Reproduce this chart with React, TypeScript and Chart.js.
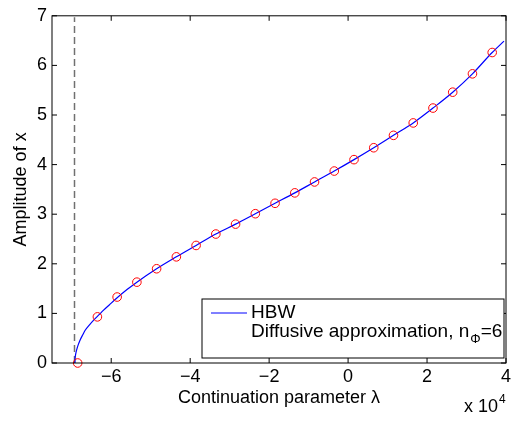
import React, { useEffect, useRef } from 'react';
import { Chart, registerables } from 'chart.js';

Chart.register(...registerables);

// continuation parameter in units of 1e4
const hbwLambda = [-6.92, -6.915, -6.9, -6.87, -6.83, -6.79, -6.72, -6.66, -6.55, -6.45, -6.3, -6.2, -6.05, -5.9, -5.6, -5.35, -4.85, -4.35, -3.85, -3.35, -2.85, -2.35, -1.85, -1.35, -0.85, -0.35, 0.15, 0.65, 1.15, 1.65, 2.15, 2.65, 3.15, 3.65, 3.95];
const hbwAmp = [0, 0.09, 0.18, 0.28, 0.38, 0.46, 0.57, 0.66, 0.77, 0.86, 0.98, 1.06, 1.17, 1.28, 1.48, 1.63, 1.9, 2.14, 2.37, 2.6, 2.8, 3.01, 3.22, 3.43, 3.65, 3.87, 4.1, 4.34, 4.59, 4.84, 5.14, 5.46, 5.83, 6.26, 6.49];

const diffLambda = [-6.85, -6.35, -5.85, -5.35, -4.85, -4.35, -3.85, -3.35, -2.85, -2.35, -1.85, -1.35, -0.85, -0.35, 0.15, 0.65, 1.15, 1.65, 2.15, 2.65, 3.15, 3.65];
const diffAmp = [0, 0.93, 1.33, 1.63, 1.9, 2.14, 2.37, 2.6, 2.8, 3.01, 3.22, 3.43, 3.65, 3.87, 4.1, 4.34, 4.59, 4.84, 5.14, 5.46, 5.83, 6.26];

const boundaryLambda = [-6.93, -6.93];
const boundaryAmp = [0, 6.97];

const xTicks = [-6, -4, -2, 0, 2, 4];
const yTicks = [0, 1, 2, 3, 4, 5, 6, 7];

const FONT = '"Liberation Sans", Arial, Helvetica, sans-serif';

const framePlugin = {
  id: 'matlabFrame',
  afterDatasetsDraw(chart: any) {
    const { ctx, chartArea: a, scales } = chart;
    const xs = scales.x;
    const ys = scales.y;
    ctx.save();
    ctx.strokeStyle = '#000';
    ctx.lineWidth = 1;
    ctx.strokeRect(a.left, a.top, a.right - a.left, a.bottom - a.top);

    // inward ticks on all four sides
    ctx.beginPath();
    xs.ticks.forEach((t: any) => {
      const px = xs.getPixelForValue(t.value);
      ctx.moveTo(px, a.bottom);
      ctx.lineTo(px, a.bottom - 5);
      ctx.moveTo(px, a.top);
      ctx.lineTo(px, a.top + 5);
    });
    ys.ticks.forEach((t: any) => {
      const py = ys.getPixelForValue(t.value);
      ctx.moveTo(a.left, py);
      ctx.lineTo(a.left + 5, py);
      ctx.moveTo(a.right, py);
      ctx.lineTo(a.right - 5, py);
    });
    ctx.stroke();

    // legend
    const w = 302;
    const h = 59;
    const lx = a.right - 2 - w;
    const ly = a.bottom - 5 - h;
    ctx.fillStyle = '#fff';
    ctx.fillRect(lx, ly, w, h);
    ctx.strokeRect(lx, ly, w, h);
    ctx.strokeStyle = '#0000ff';
    ctx.beginPath();
    ctx.moveTo(lx + 9, ly + 14);
    ctx.lineTo(lx + 45, ly + 14);
    ctx.stroke();
    ctx.fillStyle = '#000';
    ctx.font = `19px ${FONT}`;
    ctx.textAlign = 'left';
    ctx.textBaseline = 'middle';
    ctx.fillText('HBW', lx + 49, ly + 14);
    const s = 'Diffusive approximation, n';
    ctx.fillText(s, lx + 49, ly + 33);
    const sw = ctx.measureText(s).width;
    ctx.font = `13px ${FONT}`;
    ctx.fillText('\u03A6', lx + 49 + sw + 1, ly + 40);
    const pw = ctx.measureText('\u03A6').width;
    ctx.font = `19px ${FONT}`;
    ctx.fillText('=6', lx + 49 + sw + pw + 1, ly + 33);

    // axis titles
    ctx.font = `18px ${FONT}`;
    ctx.textAlign = 'center';
    ctx.fillText('Continuation parameter \u03BB', (a.left + a.right) / 2, a.bottom + 35);
    ctx.textAlign = 'left';
    ctx.fillText('x 10', a.right - 42, a.bottom + 44);
    const mw = ctx.measureText('x 10').width;
    ctx.font = `12px ${FONT}`;
    ctx.fillText('4', a.right - 42 + mw + 1, a.bottom + 37);
    ctx.font = `18px ${FONT}`;
    ctx.translate(21, (a.top + a.bottom) / 2);
    ctx.rotate(-Math.PI / 2);
    ctx.textAlign = 'center';
    ctx.fillText('Amplitude of x', 0, 0);
    ctx.restore();
  },
};

const fmt = (v: number) => (v < 0 ? '\u2212' + Math.abs(v) : String(v));

const App: React.FC = () => {
  const canvasRef = useRef<HTMLCanvasElement>(null);
  const chartRef = useRef<Chart | null>(null);

  useEffect(() => {
    if (!canvasRef.current) return;
    if (chartRef.current) chartRef.current.destroy();

    chartRef.current = new Chart(canvasRef.current, {
      type: 'line',
      data: {
        datasets: [
          {
            label: 'Diffusive approximation',
            data: diffLambda.map((x, i) => ({ x, y: diffAmp[i] })),
            showLine: false,
            pointStyle: 'circle',
            pointRadius: 4.3,
            pointBorderWidth: 1,
            pointBorderColor: '#ff0000',
            pointBackgroundColor: 'rgba(0,0,0,0)',
            clip: false,
            order: 1,
          },
          {
            label: 'HBW',
            data: hbwLambda.map((x, i) => ({ x, y: hbwAmp[i] })),
            borderColor: '#0000ff',
            borderWidth: 1.2,
            pointRadius: 0,
            cubicInterpolationMode: 'monotone',
            order: 2,
          },
          {
            label: 'boundary',
            data: boundaryLambda.map((x, i) => ({ x, y: boundaryAmp[i] })),
            borderColor: '#707070',
            borderWidth: 1.5,
            borderDash: [7, 4],
            pointRadius: 0,
            order: 3,
          },
        ],
      },
      options: {
        animation: false,
        responsive: true,
        maintainAspectRatio: false,
        layout: { padding: { top: 6, right: 12, left: 0, bottom: 0 } },
        plugins: { legend: { display: false }, tooltip: { enabled: false } },
        font: { family: FONT, size: 18 },
        scales: {
          x: {
            type: 'linear',
            min: -7.5,
            max: 4,
            afterBuildTicks: (s: any) => { s.ticks = xTicks.map((v) => ({ value: v })); },
            afterFit: (s: any) => { s.height = 63; },
            grid: { display: false, drawTicks: false },
            border: { display: false },
            ticks: {
              padding: 3,
              color: '#000',
              font: { family: FONT, size: 18 },
              maxRotation: 0,
              callback: (v: any) => fmt(Number(v)),
            },
          },
          y: {
            type: 'linear',
            min: 0,
            max: 7,
            afterBuildTicks: (s: any) => { s.ticks = yTicks.map((v) => ({ value: v })); },
            afterFit: (s: any) => { s.width = 52; },
            grid: { display: false, drawTicks: false },
            border: { display: false },
            ticks: {
              padding: 5,
              color: '#000',
              font: { family: FONT, size: 18 },
              callback: (v: any) => fmt(Number(v)),
            },
          },
        },
      } as any,
      plugins: [framePlugin],
    });

    return () => {
      if (chartRef.current) {
        chartRef.current.destroy();
        chartRef.current = null;
      }
    };
  }, []);

  return (
    <div style={{ position: 'absolute', left: 0, top: 0, width: 518, height: 426, background: '#fff' }}>
      <canvas ref={canvasRef} />
    </div>
  );
};

export default App;
